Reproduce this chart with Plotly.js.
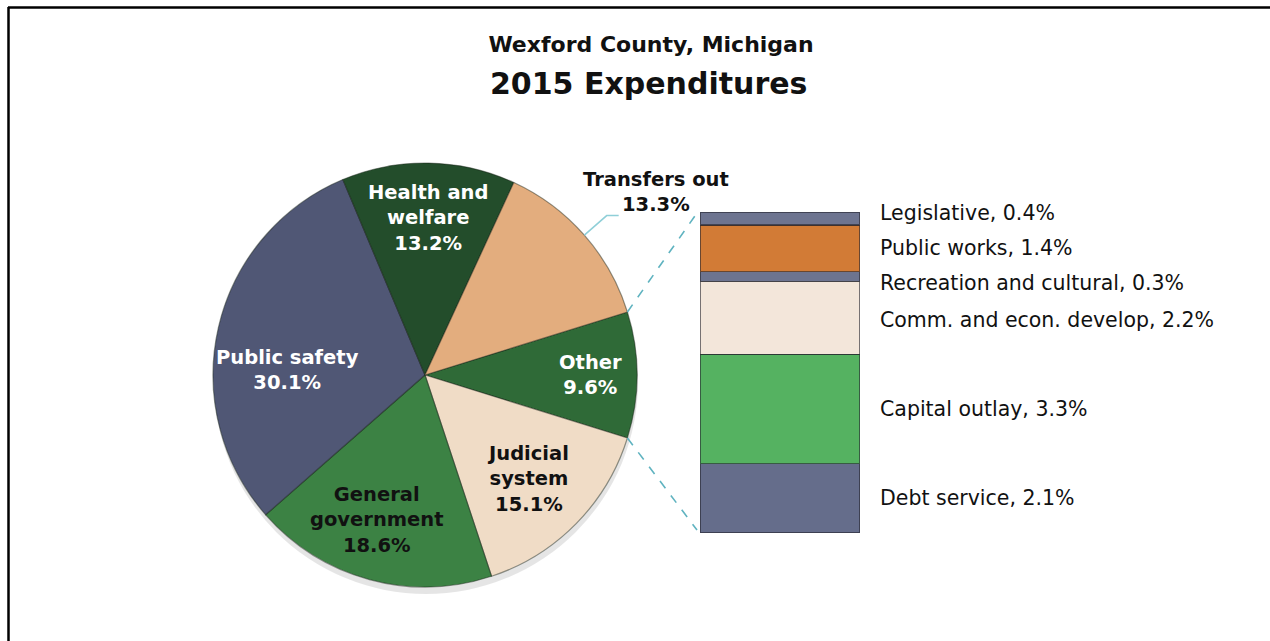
<!DOCTYPE html>
<html><head><meta charset="utf-8">
<script src="https://cdn.plot.ly/plotly-3.0.1.min.js"></script>
<style>html,body{margin:0;padding:0;background:#fff}#chart{width:1270px;height:641px}</style>
</head><body><div id="chart"></div>
<script>
// ---- data ----
const pieLabels = ["Other", "Judicial<br>system", "General<br>government", "Public safety", "Health and<br>welfare", "Transfers out"];
const pieValues = [9.6, 15.1, 18.6, 30.1, 13.2, 13.3];
const barLabels = ["Debt service", "Capital outlay", "Comm. and econ. develop", "Recreation and cultural", "Public works", "Legislative"];
const barValues = [2.1, 3.3, 2.2, 0.3, 1.4, 0.4];
const titleLine1 = "Wexford County, Michigan";
const titleLine2 = "2015 Expenditures";

// ---- style ----
const W = 1270, H = 641;
const FONT = "DejaVu Sans";
const pieColors = ["#2f6a37", "#f0dcc6", "#3c8244", "#505775", "#234d2b", "#e3ad7e"];
const pieTextColors = ["#ffffff", "#111111", "#111111", "#ffffff", "#ffffff", "#111111"];
const labelRadius = [0.78, 0.69, 0.72, 0.65, 0.74, 0];
const labelAngleShift = [0, 1, 3, -11, 0, 0];
const barColors = ["#656d8b", "#55b261", "#f3e6da", "#6d7490", "#d27b36", "#6d7490"];
const barLabelShift = [0, 0, -2, -6, 0, 6];

const cx = 425, cy = 375, R = 212;            // pie centre/radius in px
const barX0 = 700, barX1 = 860, barTop = 212, barBot = 533;

const px2x = v => v / W, px2y = v => 1 - v / H;

const pieTotal = pieValues.reduce((a, b) => a + b, 0);
const barTotal = barValues.reduce((a, b) => a + b, 0);
// first slice ("Other") centred at 3 o'clock; plotly rotation is clockwise from 12
const rotation = 90 - (pieValues[0] / pieTotal * 360) / 2;

function polar(thetaDeg, frac) {
  const t = thetaDeg * Math.PI / 180;
  return [cx + R * frac * Math.sin(t), cy - R * frac * Math.cos(t)];
}

const traces = [{
  type: "pie",
  labels: pieLabels,
  values: pieValues,
  sort: false,
  direction: "clockwise",
  rotation: rotation,
  textinfo: "none",
  hoverinfo: "label+percent",
  marker: { colors: pieColors, line: { color: "rgba(20,30,20,0.45)", width: 1.2 } },
  domain: { x: [px2x(cx - R), px2x(cx + R)], y: [px2y(cy + R), px2y(cy - R)] },
  showlegend: false
}];

barLabels.forEach((lab, i) => {
  traces.push({
    type: "bar", x: [0], y: [barValues[i]], width: [1], name: lab,
    marker: { color: barColors[i], line: { color: "rgba(35,35,45,0.6)", width: 1.5 } },
    hoverinfo: "name+y", showlegend: false
  });
});

const annotations = [];
const shapes = [];

// pie labels
let cum = 0;
pieValues.forEach((v, i) => {
  const start = rotation + cum / pieTotal * 360;
  const mid = start + v / pieTotal * 180;
  cum += v;
  const txt = "<b>" + pieLabels[i] + "<br>" + v.toFixed(1) + "%</b>";
  if (i === 5) {
    // outside label with leader line
    const p1 = polar(mid, 1.0), p2 = polar(mid, 1.14);
    const p3 = [p2[0] + 12, p2[1]];
    shapes.push({ type: "path", xref: "paper", yref: "paper",
      path: `M${px2x(p1[0])},${px2y(p1[1])} L${px2x(p2[0])},${px2y(p2[1])} L${px2x(p3[0])},${px2y(p3[1])}`,
      line: { color: "#8fcfd8", width: 1.5 } });
    annotations.push({ xref: "paper", yref: "paper", x: px2x(p3[0] + 37), y: px2y(p3[1] - 24),
      text: txt, showarrow: false, xanchor: "center", yanchor: "middle",
      font: { family: FONT, size: 19.5, color: pieTextColors[i] } });
  } else {
    const p = polar(mid + labelAngleShift[i], labelRadius[i]);
    annotations.push({ xref: "paper", yref: "paper", x: px2x(p[0]), y: px2y(p[1]),
      text: txt, showarrow: false, xanchor: "center", yanchor: "middle",
      font: { family: FONT, size: 19.5, color: pieTextColors[i] } });
  }
});

// bar labels
let bc = 0;
barValues.forEach((v, i) => {
  annotations.push({ xref: "x", yref: "y", x: 0.5, y: bc + v / 2, xshift: 18, yshift: barLabelShift[i],
    text: barLabels[i] + ", " + v.toFixed(1) + "%", showarrow: false, xanchor: "left", yanchor: "middle",
    font: { family: FONT, size: 20.5, color: "#111111" } });
  bc += v;
});

// second title line
annotations.push({ xref: "paper", yref: "paper", x: px2x(648), y: px2y(84), text: "<b>" + titleLine2 + "</b>",
  showarrow: false, xanchor: "center", yanchor: "middle", font: { family: FONT, size: 30, color: "#111111" } });

// dashed connectors from the "Other" slice edges to the bar
const a0 = rotation, a1 = rotation + pieValues[0] / pieTotal * 360;
const e0 = polar(a0, 1.0), e1 = polar(a1, 1.0);
shapes.push({ type: "line", xref: "paper", yref: "paper", x0: px2x(e0[0]), y0: px2y(e0[1]), x1: px2x(barX0 - 3), y1: px2y(barTop + 1),
  line: { color: "#5fb3c0", width: 1.6, dash: "dash" } });
shapes.push({ type: "line", xref: "paper", yref: "paper", x0: px2x(e1[0]), y0: px2y(e1[1]), x1: px2x(barX0 - 3), y1: px2y(barBot - 3),
  line: { color: "#5fb3c0", width: 1.6, dash: "dash" } });

// pie shadow
shapes.push({ type: "circle", xref: "paper", yref: "paper", layer: "below",
  x0: px2x(cx - R + 1), x1: px2x(cx + R + 1), y0: px2y(cy + R + 7), y1: px2y(cy - R + 7),
  fillcolor: "rgba(0,0,0,0.10)", line: { width: 0 } });

// frame (top and left edges)
shapes.push({ type: "line", xref: "paper", yref: "paper", x0: px2x(8), y0: px2y(7.5), x1: 1, y1: px2y(7.5), line: { color: "#000", width: 2.5 } });
shapes.push({ type: "line", xref: "paper", yref: "paper", x0: px2x(8.5), y0: px2y(7), x1: px2x(8.5), y1: 0, line: { color: "#000", width: 2.5 } });

const layout = {
  width: W, height: H,
  margin: { l: 0, r: 0, t: 0, b: 0 },
  paper_bgcolor: "#ffffff", plot_bgcolor: "rgba(0,0,0,0)",
  title: { text: "<b>" + titleLine1 + "</b>", x: px2x(651), xanchor: "center", xref: "paper",
    y: px2y(44), yref: "container", yanchor: "middle", font: { family: FONT, size: 22, color: "#111111" } },
  barmode: "stack", bargap: 0,
  xaxis: { domain: [px2x(barX0), px2x(barX1)], range: [-0.5, 0.5], visible: false, fixedrange: true },
  yaxis: { domain: [px2y(barBot), px2y(barTop)], range: [0, barTotal], visible: false, fixedrange: true },
  annotations: annotations,
  shapes: shapes,
  showlegend: false
};

Plotly.newPlot("chart", traces, layout, { displayModeBar: false, staticPlot: true });
</script>
</body></html>
